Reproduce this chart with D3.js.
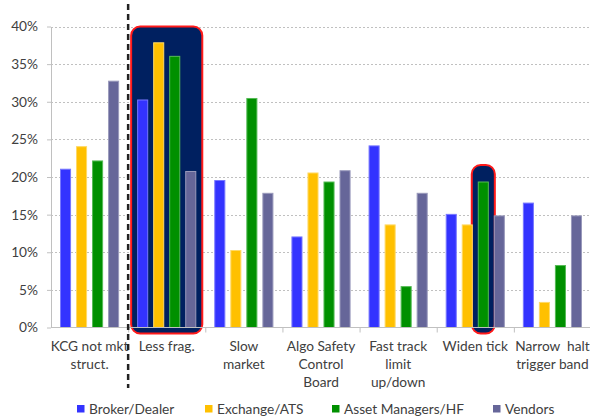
<!DOCTYPE html>
<html><head><meta charset="utf-8">
<script src="https://cdn.jsdelivr.net/npm/d3@7"></script>
<style>
html,body{margin:0;padding:0;background:#fff;overflow:hidden}
text{font-family:Lato,"Open Sans",sans-serif;fill:#404040}
</style></head>
<body>
<svg id="c" width="590" height="419"></svg>
<script>
const categories = [
  ["KCG not mkt","struct."],
  ["Less frag."],
  ["Slow","market"],
  ["Algo Safety","Control","Board"],
  ["Fast track","limit","up/down"],
  ["Widen tick"],
  ["Narrow  halt","trigger band"]
];
const seriesNames = ["Broker/Dealer","Exchange/ATS","Asset Managers/HF","Vendors"];
const seriesColors = ["#3333ff","#ffc000","#009000","#666699"];
const seriesEdges = ["#7777ff","#ffd966","#55bb55","#9999bb"];
const brokerDealer = [21.1, 30.3, 19.6, 12.1, 24.2, 15.1, 16.6];
const exchangeATS  = [24.1, 37.9, 10.3, 20.6, 13.7, 13.7, 3.4];
const assetMgrs    = [22.2, 36.1, 30.5, 19.4, 5.5, 19.4, 8.3];
const vendors      = [32.8, 20.8, 17.9, 20.9, 17.9, 14.9, 14.9];
const yTicks = [0,5,10,15,20,25,30,35,40];
const series = [brokerDealer, exchangeATS, assetMgrs, vendors];
const FS = 13.7;

const svg = d3.select("#c");
const mLeft = 51, mRight = 591, mTop = 26.5, mBottom = 327.5;
const x0 = d3.scaleBand().domain(d3.range(categories.length)).range([mLeft, mRight]).paddingInner(0).paddingOuter(0);
const x1 = d3.scaleBand().domain(d3.range(series.length)).range([9, x0.bandwidth() - 9]).paddingInner(0.31).paddingOuter(0);
const y = d3.scaleLinear().domain([0, 40]).range([mBottom, mTop]);

// gridlines
svg.append("g").selectAll("line").data(yTicks.filter(d => d > 0)).join("line")
  .attr("x1", mLeft).attr("x2", mRight).attr("y1", d => Math.round(y(d)) + 0.5).attr("y2", d => Math.round(y(d)) + 0.5)
  .attr("stroke", "#c0c0c0").attr("stroke-width", 1).attr("stroke-dasharray", "2,2");

// highlight boxes
function box(cat, sIdx0, sIdx1, yTopVal) {
  const gx = x0(cat);
  const xa = gx + x1(sIdx0) - 6, xb = gx + x1(sIdx1) + x1.bandwidth() + 6;
  svg.append("rect").attr("x", xa).attr("y", y(yTopVal)).attr("width", xb - xa)
    .attr("height", y(0) + 6 - y(yTopVal)).attr("rx", 9).attr("ry", 9)
    .attr("fill", "#002060").attr("stroke", "#ff1a1a").attr("stroke-width", 2);
}
box(1, 0, 3, 40);
box(5, 2, 2, 21.6);

// y axis
const yAxis = svg.append("g").attr("transform", `translate(${mLeft},0)`)
  .call(d3.axisLeft(y).tickValues(yTicks).tickFormat(d => d + "%").tickSize(4).tickSizeOuter(0).tickPadding(9));
yAxis.select(".domain").attr("stroke", "#c0c0c0");
yAxis.selectAll(".tick line").attr("stroke", "#c0c0c0");
yAxis.selectAll("text").attr("font-size", FS).attr("fill", "#404040").style("font-family", "Lato, sans-serif");

// bars
const groups = svg.append("g").selectAll("g").data(categories).join("g")
  .attr("transform", (d, i) => `translate(${x0(i)},0)`);
groups.selectAll("rect").data((d, i) => series.map((s, k) => ({k, v: s[i]}))).join("rect")
  .attr("x", d => x1(d.k) + 0.5).attr("width", x1.bandwidth() - 1)
  .attr("y", d => y(d.v) + 0.5).attr("height", d => y(0) - y(d.v) - 0.5)
  .attr("fill", d => seriesColors[d.k]).attr("stroke", d => seriesEdges[d.k]).attr("stroke-width", 1);

// x axis
const xAxis = svg.append("g").attr("transform", `translate(0,${mBottom})`);
xAxis.append("line").attr("x1", mLeft).attr("x2", mRight).attr("stroke", "#c0c0c0");
xAxis.selectAll("line.t").data(d3.range(1, categories.length)).join("line").attr("class", "t")
  .attr("x1", i => x0(i) + 0.5).attr("x2", i => x0(i) + 0.5).attr("y1", 0).attr("y2", 5).attr("stroke", "#c0c0c0");

// category labels
const lab = svg.append("g").selectAll("text").data(categories).join("text")
  .attr("text-anchor", "middle").attr("font-size", FS)
  .attr("x", (d, i) => x0(i) + x0.bandwidth() / 2);
lab.selectAll("tspan").data(d => d).join("tspan")
  .attr("x", function() { return this.parentNode.getAttribute("x"); })
  .attr("y", (d, j) => 351 + j * 18).text(d => d).style("white-space", "pre");

// dashed separator
svg.append("line").attr("x1", x0(1)).attr("x2", x0(1)).attr("y1", 4).attr("y2", 388)
  .attr("stroke", "#222").attr("stroke-width", 2.5).attr("stroke-dasharray", "6,4");

// legend
const legX = [77, 205, 332, 493];
const leg = svg.append("g").selectAll("g").data(seriesNames).join("g")
  .attr("transform", (d, i) => `translate(${legX[i]},405)`);
leg.append("rect").attr("width", 7.5).attr("height", 7.5).attr("fill", (d, i) => seriesColors[i]);
leg.append("text").attr("x", 12).attr("y", 8.5).attr("font-size", FS).text(d => d);
</script>
</body></html>
